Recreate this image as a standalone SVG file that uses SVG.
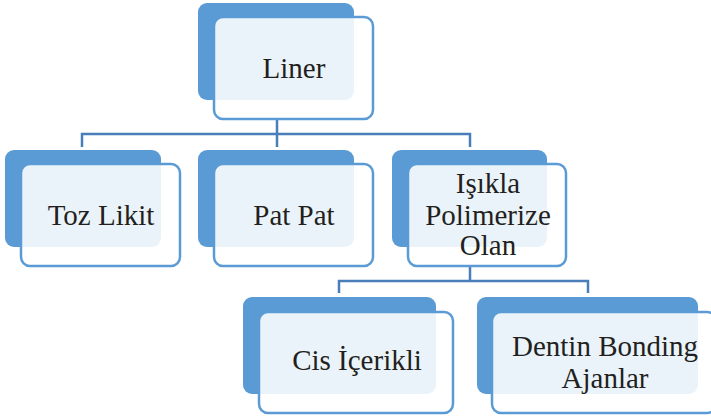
<svg xmlns="http://www.w3.org/2000/svg" width="711" height="417" viewBox="0 0 711 417">
  <style>
    .back { fill: #5B9BD5; }
    .front { fill: #FFFFFF; fill-opacity: 0.88; stroke: #5B9BD5; stroke-width: 2.5; }
    .label { font-size: 29px; fill: #231F20; text-anchor: middle; }
    .link { fill: none; stroke: #4A7EBB; stroke-width: 2.5; }
  </style>

  <!-- tree connectors -->
  <g id="connectors">
    <path class="link" d="M277 119 V134 M82 147 V134 H470 V147 M277 134 V147"/>
    <path class="link" d="M470 266 V281 M339 293 V281 H588 V293"/>
  </g>

  <g font-family="Liberation Serif, DejaVu Serif, serif">
    <g id="liner">
      <rect class="back" x="198" y="3" width="156" height="97" rx="9"/>
      <rect class="front" x="214" y="17" width="159" height="102" rx="9"/>
      <text class="label" x="294" y="78">Liner</text>
    </g>

    <g id="toz-likit">
      <rect class="back" x="5" y="150" width="156" height="97" rx="9"/>
      <rect class="front" x="21" y="164" width="159" height="102" rx="9"/>
      <text class="label" x="101" y="225">Toz Likit</text>
    </g>

    <g id="pat-pat">
      <rect class="back" x="198" y="150" width="156" height="97" rx="9"/>
      <rect class="front" x="214" y="164" width="159" height="102" rx="9"/>
      <text class="label" x="294" y="225">Pat Pat</text>
    </g>

    <g id="isikla-polimerize">
      <rect class="back" x="392" y="150" width="155" height="97" rx="9"/>
      <rect class="front" x="408" y="164" width="158" height="102" rx="9"/>
      <text class="label" x="488" y="193">Işıkla</text>
      <text class="label" x="488" y="225">Polimerize</text>
      <text class="label" x="488" y="255">Olan</text>
    </g>

    <g id="cis-icerikli">
      <rect class="back" x="243" y="297" width="193" height="97" rx="9"/>
      <rect class="front" x="259" y="312" width="194" height="101" rx="9"/>
      <text class="label" x="357" y="370">Cis İçerikli</text>
    </g>

    <g id="dentin-bonding">
      <rect class="back" x="477" y="297" width="221" height="97" rx="9"/>
      <rect class="front" x="492" y="312" width="224" height="101" rx="9"/>
      <text class="label" x="605" y="356">Dentin Bonding</text>
      <text class="label" x="605" y="388">Ajanlar</text>
    </g>
  </g>
</svg>
